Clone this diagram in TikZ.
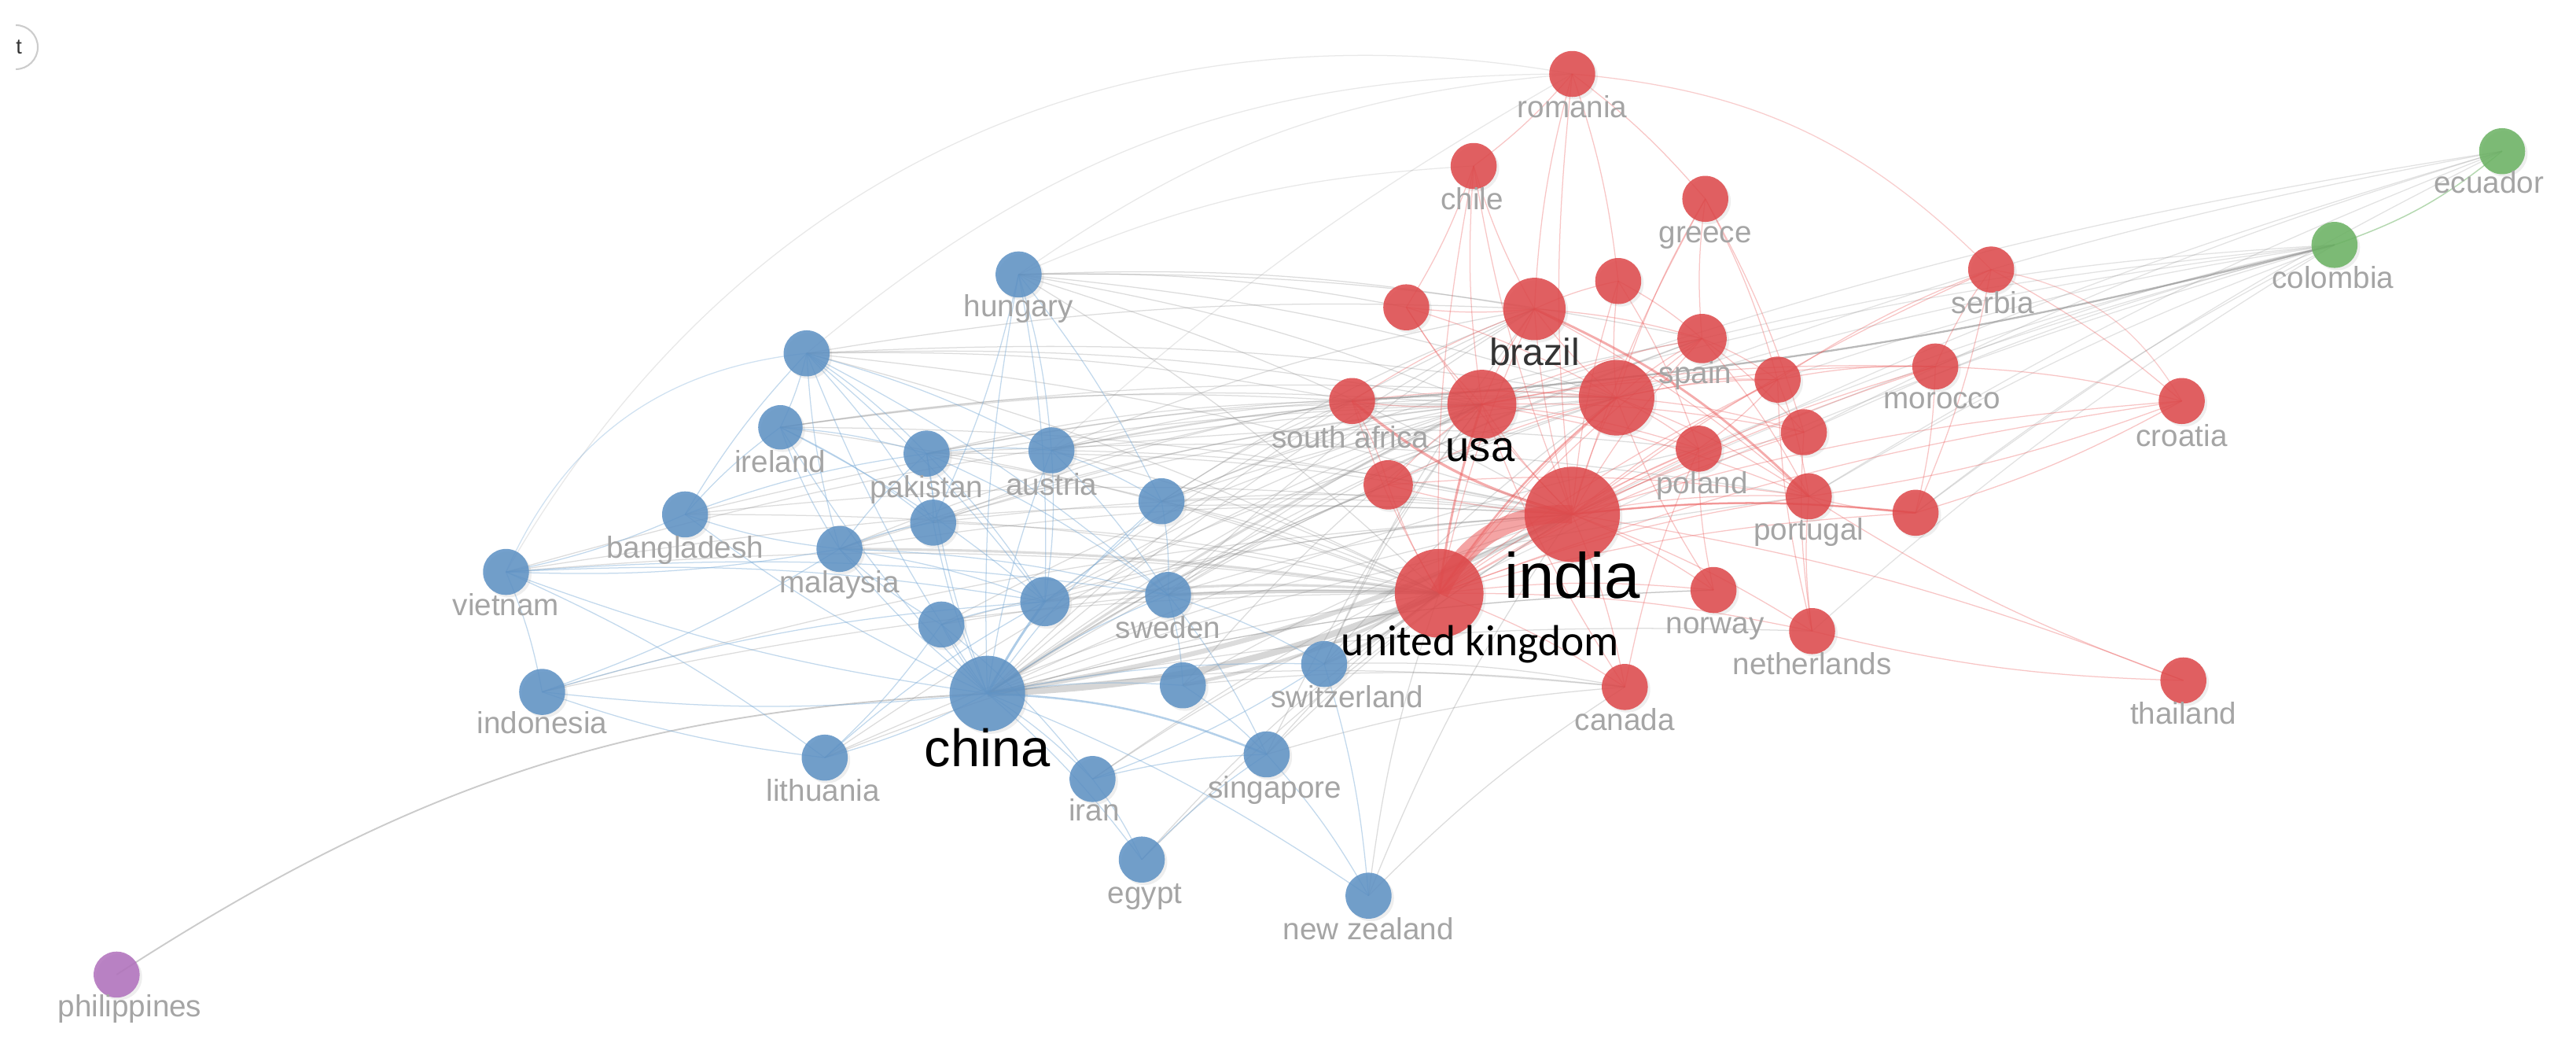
\documentclass[tikz,border=0pt]{standalone}
\usepackage{fontspec}
\setmainfont{Liberation Sans}
\newfontfamily\calfont{Carlito}
\usetikzlibrary{backgrounds,shadows}
\definecolor{nblue}{RGB}{93,145,196}
\definecolor{nred}{RGB}{222,72,74}
\definecolor{ngreen}{RGB}{106,178,98}
\definecolor{npurple}{RGB}{176,112,188}
\definecolor{labgray}{RGB}{165,165,165}
\definecolor{edgegray}{RGB}{140,140,140}
\definecolor{edgeblue}{RGB}{120,170,215}
\definecolor{edgered}{RGB}{235,90,90}
\tikzset{
 nd/.style={circle, inner sep=0pt, draw=none, minimum size=#1, fill opacity=0.86,
   drop shadow={shadow xshift=1.5pt, shadow yshift=-1.5pt, opacity=0.13}},
 bn/.style={nd=#1, fill=nblue},
 rn/.style={nd=#1, fill=nred},
 gn/.style={nd=#1, fill=ngreen},
 pn/.style={nd=#1, fill=npurple},
 lab/.style={font=\fontsize{18.5}{19}\selectfont, text=labgray, inner sep=0pt, text height=13pt, text depth=4pt},
 blab/.style={inner sep=0pt, text=black},
 gedge/.style={draw=edgegray, line width=0.6pt, draw opacity=0.3},
 bedge/.style={draw=edgeblue, line width=0.6pt, draw opacity=0.45},
 redge/.style={draw=edgered, line width=0.6pt, draw opacity=0.35},
}
\begin{document}
\begin{tikzpicture}[x=1pt,y=-1pt]
\useasboundingbox (0,0) rectangle (1568,637);
% ---------- blue cluster
\node[bn=28pt] (hun) at (620,167) {};
\node[bn=28pt] (bxa) at (491,215) {};
\node[bn=27pt] (ire) at (475,260) {};
\node[bn=28pt] (pak) at (564,276) {};
\node[bn=28pt] (aus) at (640,274) {};
\node[bn=28pt] (ban) at (417,313) {};
\node[bn=28pt] (mal) at (511,334) {};
\node[bn=28pt] (bxb) at (568,318) {};
\node[bn=28pt] (bxc) at (707,305) {};
\node[bn=28pt] (vie) at (308,348) {};
\node[bn=30pt] (bxd) at (636,366) {};
\node[bn=28pt] (swe) at (711,362) {};
\node[bn=28pt] (bxe) at (573,380) {};
\node[bn=46pt] (chi) at (601,422) {};
\node[bn=28pt] (bxf) at (720,417) {};
\node[bn=28pt] (swi) at (806,404) {};
\node[bn=28pt] (idn) at (330,421) {};
\node[bn=28pt] (lit) at (502,461) {};
\node[bn=28pt] (ira) at (665,474) {};
\node[bn=28pt] (sin) at (771,459) {};
\node[bn=28pt] (egy) at (695,523) {};
\node[bn=28pt] (nz) at (833,545) {};
% ---------- red cluster
\node[rn=28pt] (rom) at (957,45) {};
\node[rn=28pt] (chl) at (897,101) {};
\node[rn=28pt] (gre) at (1038,121) {};
\node[rn=28pt] (rxa) at (985,171) {};
\node[rn=28pt] (ser) at (1212,164) {};
\node[rn=28pt] (rxb) at (856,187) {};
\node[rn=38pt] (bra) at (934,188) {};
\node[rn=30pt] (spa) at (1036,206) {};
\node[rn=28pt] (rxc) at (1082,231) {};
\node[rn=28pt] (mor) at (1178,223) {};
\node[rn=28pt] (cro) at (1328,244) {};
\node[rn=28pt] (saf) at (823,244) {};
\node[rn=42pt] (usa) at (902,246) {};
\node[rn=46pt] (rxd) at (984,242) {};
\node[rn=28pt] (pol) at (1034,273) {};
\node[rn=28pt] (rxe) at (1098,263) {};
\node[rn=30pt] (rxf) at (845,295) {};
\node[rn=58pt] (inda) at (957,313) {};
\node[rn=28pt] (por) at (1101,302) {};
\node[rn=28pt] (rxg) at (1166,312) {};
\node[rn=54pt] (uk) at (876,361) {};
\node[rn=28pt] (nor) at (1043,359) {};
\node[rn=28pt] (net) at (1103,384) {};
\node[rn=28pt] (can) at (989,418) {};
\node[rn=28pt] (tha) at (1329,414) {};
% ---------- green / purple
\node[gn=28pt] (col) at (1421,149) {};
\node[gn=28pt] (ecu) at (1523,92) {};
\node[pn=28pt] (phi) at (71,593) {};
% ---------- corner button
\begin{scope}
\clip (9.6,0) rectangle (40,60);
\node[circle, draw=black!20, line width=1pt, fill=white, minimum size=26.8pt, inner sep=0pt] (btn) at (9.6,28.7) {};
\end{scope}
\node[inner sep=0pt, font=\fontsize{13}{13}\selectfont, text=black!80] (btnt) at (11.5,28.7) {t};
% ---------- labels
\node[lab] (hunl) at (620,188) {hungary};
\node[lab] (irel) at (475,283) {ireland};
\node[lab] (pakl) at (564,298) {pakistan};
\node[lab] (ausl) at (640,297) {austria};
\node[lab] (banl) at (417,335) {bangladesh};
\node[lab] (mall) at (511,356) {malaysia};
\node[lab] (viel) at (308,370) {vietnam};
\node[lab] (swel) at (711,384) {sweden};
\node[lab] (swil) at (820,426) {switzerland};
\node[lab] (idnl) at (330,442) {indonesia};
\node[lab] (litl) at (501,483) {lithuania};
\node[lab] (iral) at (666,495) {iran};
\node[lab] (sinl) at (776,481) {singapore};
\node[lab] (egyl) at (697,545) {egypt};
\node[lab] (nzl) at (833,567) {new zealand};
\node[lab] (roml) at (957,67) {romania};
\node[lab] (chll) at (896,123) {chile};
\node[lab] (grel) at (1038,143) {greece};
\node[lab] (serl) at (1213,186) {serbia};
\node[lab] (spal) at (1032,229) {spain};
\node[lab] (morl) at (1182,244) {morocco};
\node[lab] (crol) at (1328,267) {croatia};
\node[lab] (safl) at (822,268) {south africa};
\node[lab] (poll) at (1036,296) {poland};
\node[lab] (porl) at (1101,324) {portugal};
\node[lab] (norl) at (1044,381) {norway};
\node[lab] (netl) at (1103,406) {netherlands};
\node[lab] (canl) at (989,440) {canada};
\node[lab] (thal) at (1329,436) {thailand};
\node[lab] (coll) at (1420,171) {colombia};
\node[lab] (ecul) at (1515,113) {ecuador};
\node[lab] (phil) at (79,614) {philippines};
\node[blab, font=\fontsize{39}{39}\selectfont] (indal) at (957,350) {india};
\node[blab, font=\fontsize{32}{32}\selectfont] (chil) at (601,455) {china};
\node[blab, font=\fontsize{26}{26}\selectfont] (usal) at (901,274) {usa};
\node[blab, font=\fontsize{23}{23}\selectfont, text=black!80] (bral) at (934,214) {brazil};
\node[blab, font=\calfont\fontsize{26.5}{26.5}\selectfont] (ukl) at (901,392) {united kingdom};
% ---------- edges
\begin{scope}[on background layer]
\fill[white] (0,0) rectangle (1568,637);
% long gray arcs
\draw[gedge, draw opacity=0.45, line width=0.9pt] (phi.center) to[bend left=15] (chi.center);
\draw[gedge, draw opacity=0.2] (vie.center) to[bend left=35] (rom.center);
\draw[gedge, draw opacity=0.2] (bxa.center) to[bend left=20] (rom.center);
\draw[gedge, draw opacity=0.2] (hun.center) to[bend left=15] (rom.center);
\draw[gedge, draw opacity=0.2] (hun.center) to[bend left=10] (chl.center);
\draw[gedge, draw opacity=0.2] (aus.center) to[bend left=6] (rom.center);
% gray inter-cluster
\foreach \a/\b in {chi/usa,chi/rxd,chi/bra,chi/saf,chi/rxf,chi/can,chi/spa,chi/pol,chi/por,chi/nor,
 swe/inda,swe/usa,swe/rxd,bxf/inda,bxf/usa,swi/inda,swi/usa,swi/bra,swi/can,
 bxd/inda,bxd/usa,bxd/bra,bxc/uk,bxc/inda,bxc/usa,bxc/rxd,bxc/bra,bxc/saf,
 mal/inda,mal/usa,mal/saf,mal/rxd,pak/inda,pak/usa,pak/uk,pak/saf,pak/rxd,
 aus/uk,aus/usa,aus/rxd,aus/bra,aus/inda,aus/saf,ire/usa,ire/uk,ire/rxd,ire/inda,ire/saf,
 ban/inda,ban/uk,ban/usa,hun/usa,hun/bra,hun/rxd,hun/inda,hun/uk,hun/spa,hun/rxb,
 bxa/usa,bxa/rxd,bxa/uk,bxa/inda,bxa/bra,bxa/saf,bxb/inda,bxb/uk,bxb/usa,bxb/saf,
 bxe/inda,bxe/uk,sin/uk,sin/inda,sin/can,ira/uk,ira/inda,egy/uk,egy/inda,nz/uk,nz/can,nz/inda,
 lit/uk,lit/inda,idn/uk,idn/inda,vie/uk,vie/usa,vie/inda,swe/bra,bxd/rxd,swi/rxd,sin/usa,
 chi/nor,chi/net,bxf/can,swe/spa,bxc/spa,aus/pol,pak/por,chi/rxf,bxe/usa,lit/usa}
 \draw[gedge] (\a.center) to[bend left=6] (\b.center);
\foreach \a/\b in {col/rxd,col/inda,col/usa,col/spa,col/uk,col/por,col/rxc,col/rxe,col/pol,col/rxg,
 ecu/inda,ecu/rxd,ecu/usa,ecu/por,ecu/rxe,ecu/rxg,col/mor,col/net}
 \draw[gedge, draw opacity=0.25] (\a.center) to[bend right=5] (\b.center);
\draw[gedge, draw opacity=0.6, line width=1.1pt] (col.center) to[bend left=5] (saf.center);
% thick gray
\draw[gedge, draw opacity=0.35, line width=4pt] (chi.center) to[bend right=10] (uk.center);
\draw[gedge, draw opacity=0.3, line width=3pt] (chi.center) to[bend right=8] (inda.center);
\draw[gedge, draw opacity=0.35, line width=2pt] (swe.center) to[bend left=2] (uk.center);
\draw[gedge, draw opacity=0.3, line width=2pt] (bxf.center) to[bend right=8] (uk.center);
\draw[gedge, draw opacity=0.3, line width=1.5pt] (swi.center) to[bend right=8] (uk.center);
\draw[gedge, draw opacity=0.3, line width=1.5pt] (chi.center) to[bend left=4] (usa.center);
\draw[gedge, draw opacity=0.3, line width=1.5pt] (bxd.center) to[bend left=6] (uk.center);
\draw[gedge, draw opacity=0.3, line width=1.5pt] (mal.center) to[bend left=4] (uk.center);
% blue internal
\foreach \a/\b in {chi/bxe,chi/swe,chi/bxf,chi/swi,chi/ira,chi/egy,chi/lit,chi/idn,chi/vie,
 chi/mal,chi/pak,chi/bxb,chi/aus,chi/ire,chi/ban,chi/hun,chi/bxa,chi/bxc,chi/nz,
 mal/ban,mal/vie,mal/ire,mal/bxa,mal/pak,mal/bxb,mal/bxd,mal/swe,mal/idn,
 ban/ire,ban/vie,ban/bxa,ban/pak,vie/idn,vie/lit,vie/bxd,vie/swe,
 bxa/ire,bxa/pak,bxa/aus,bxa/bxb,bxa/bxd,bxa/swe,ire/pak,ire/bxb,ire/bxd,
 pak/aus,pak/bxb,pak/bxd,pak/swe,aus/bxd,aus/swe,aus/bxc,hun/bxb,hun/aus,hun/bxc,hun/bxd,
 bxc/swe,bxc/bxd,swe/bxf,swe/swi,swe/sin,bxe/lit,bxe/ira,bxe/bxd,
 ira/egy,ira/sin,egy/sin,sin/nz,swi/nz,lit/idn,idn/bxd,bxf/sin,bxe/mal,lit/bxd,swi/ira}
 \draw[bedge] (\a.center) to[bend left=6] (\b.center);
\draw[bedge, line width=1.4pt, draw opacity=0.6] (chi.center) to[bend left=4] (bxd.center);
\draw[bedge, line width=1.2pt, draw opacity=0.55] (chi.center) to[bend left=10] (sin.center);
\draw[bedge, draw opacity=0.35] (vie.center) to[bend left=30] (bxa.center);
% red internal
\foreach \a/\b in {uk/bra,uk/rxd,uk/saf,uk/rxf,uk/spa,uk/pol,uk/por,uk/nor,uk/net,uk/can,uk/rxc,uk/rxe,uk/rxg,uk/chl,
 inda/usa,inda/rxd,inda/bra,inda/rxf,inda/spa,inda/pol,inda/por,inda/rxg,inda/nor,inda/net,inda/can,
 inda/mor,inda/rxc,inda/rxe,inda/cro,inda/tha,inda/ser,inda/gre,inda/chl,inda/rxa,inda/rxb,inda/rom,
 usa/bra,usa/rxd,usa/saf,usa/rxb,usa/chl,usa/spa,usa/rxc,usa/pol,usa/por,usa/mor,
 rxd/bra,rxd/spa,rxd/rxc,rxd/pol,rxd/rxe,rxd/mor,rxd/por,rxd/rxa,rxd/gre,
 bra/rxb,bra/chl,bra/rxa,bra/spa,bra/por,bra/rom,spa/gre,spa/rxc,spa/rxe,spa/por,
 rxc/pol,rxc/mor,rxc/ser,rxc/por,mor/ser,mor/rxg,mor/cro,ser/cro,ser/rxg,
 cro/rxg,cro/por,rxg/por,tha/net,tha/por,rom/chl,rom/gre,rom/rxa,chl/rxb,
 gre/rxe,gre/rxc,nor/pol,nor/rxd,can/usa,can/pol,net/rxe,net/por,net/rxc,
 saf/rxd,saf/rxf,saf/bra,rxf/usa,rxf/rxd,rxb/rxd,rxa/spa,rxa/pol,uk/mor,usa/rxe,uk/cro,rxf/por}
 \draw[redge] (\a.center) to[bend left=6] (\b.center);
\draw[redge, draw opacity=0.3] (rom.center) to[bend left=20] (ser.center);
\draw[redge, draw opacity=0.3] (ser.center) to[bend left=25] (cro.center);
\draw[redge, line width=1.6pt, draw opacity=0.5] (saf.center) to[bend right=12] (inda.center);
\draw[redge, line width=1.4pt, draw opacity=0.5] (bra.center) to[bend left=10] (por.center);
\draw[redge, line width=1.4pt, draw opacity=0.5] (uk.center) to[bend left=5] (usa.center);
\draw[redge, line width=1.2pt, draw opacity=0.5] (inda.center) to[bend left=6] (rxg.center);
\draw[redge, line width=1.2pt, draw opacity=0.5] (uk.center) to[bend left=8] (rxd.center);
\draw[draw=ngreen, line width=0.7pt, draw opacity=0.5] (col.center) to[bend right=10] (ecu.center);
\draw[draw=edgered, line width=11pt, draw opacity=0.55] (uk.center) to[bend left=34] (inda.center);
\end{scope}
\end{tikzpicture}
\end{document}
